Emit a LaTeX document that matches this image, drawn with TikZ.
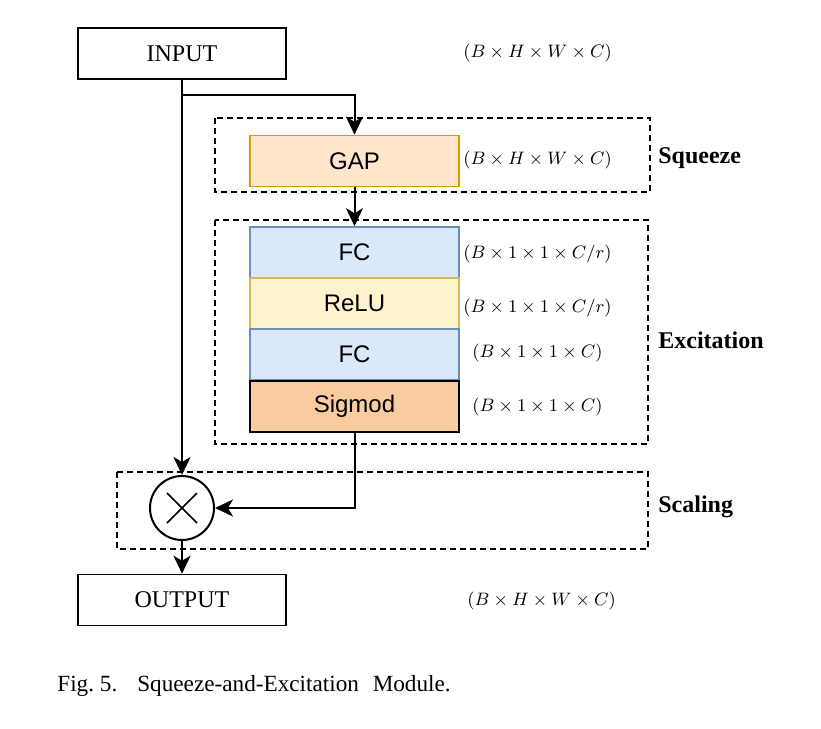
\documentclass[tikz,border=0pt]{standalone}
\usepackage{amsmath}
\usepackage{fontspec}
\setmainfont{Liberation Serif}
\setsansfont{Liberation Sans}
\usetikzlibrary{arrows.meta}
\definecolor{gapfill}{HTML}{FFE6CC}
\definecolor{gapline}{HTML}{D79B00}
\definecolor{fcfill}{HTML}{DAE8FC}
\definecolor{fcline}{HTML}{6C8EBF}
\definecolor{relufill}{HTML}{FFF2CC}
\definecolor{reluline}{HTML}{D6B656}
\definecolor{sigfill}{HTML}{F8CC9F}

\begin{document}
\begin{tikzpicture}[x=0.5pt,y=-0.5pt,
  >={Stealth[length=9pt,width=8.5pt,inset=2.5pt]},
  every node/.style={font=\fontsize{12}{14}\selectfont},
  plain/.style={draw,line width=0.8pt,minimum width=104pt,minimum height=25.5pt,inner sep=0},
  layer/.style={draw,line width=0.8pt,minimum width=104.5pt,minimum height=25.5pt,inner sep=0,font=\sffamily\fontsize{12}{14}\selectfont},
  group/.style={draw,line width=0.75pt,dash pattern=on 3pt off 2pt},
  dims/.style={font=\fontsize{9.5}{12}\selectfont,anchor=west,inner sep=0},
  tag/.style={font=\bfseries\fontsize{12}{14}\selectfont,anchor=west,inner sep=0},
  flow/.style={->,line width=1pt}]
\useasboundingbox (0,0) rectangle (821,729);
% groups
\draw[group] (215,118) rectangle (650,192);
\draw[group] (215,220) rectangle (648,444);
\draw[group] (117,472) rectangle (648,549);
% blocks
\node[plain] (input) at (182,53.5) {INPUT};
\node[layer,fill=gapfill,draw=gapline] (gap) at (354.5,161) {GAP};
\node[layer,fill=fcfill,draw=fcline] (fc1) at (354.5,252.5) {FC};
\node[layer,fill=relufill,draw=reluline] (relu) at (354.5,303.5) {ReLU};
\node[layer,fill=fcfill,draw=fcline] (fc2) at (354.5,354.5) {FC};
\node[layer,fill=sigfill,line width=1pt] (sig) at (354.5,406.5) {Sigmod};
\node[circle,draw,line width=1pt,minimum size=32pt,inner sep=0] (mul) at (182,508) {};
\draw[line width=0.8pt] (mul.center) +(-15,-15) -- +(15,15) (mul.center) +(-15,15) -- +(15,-15);
\node[plain] (output) at (182,600) {OUTPUT};
% shapes
\node[dims] (dimin) at (463,53) {$(B\times H\times W\times C)$};
\node[dims] (dimgap) at (463,160) {$(B\times H\times W\times C)$};
\node[dims] (dimfca) at (463,254) {$(B\times 1\times 1\times C/r)$};
\node[dims] (dimrelu) at (463,308) {$(B\times 1\times 1\times C/r)$};
\node[dims] (dimfcb) at (472,353) {$(B\times 1\times 1\times C)$};
\node[dims] (dimsig) at (472,407) {$(B\times 1\times 1\times C)$};
\node[dims] (dimout) at (467,601) {$(B\times H\times W\times C)$};
% stages
\node[tag] (squeeze) at (658,158) {Squeeze};
\node[tag] (excite) at (658,340) {Excitation};
\node[tag] (scale) at (658,507) {Scaling};
% connectors
\coordinate (split) at (182,95);
\draw[flow] (input.south) -- (mul.north);
\draw[flow] (split) -| (gap.north);
\draw[flow] (gap.south) -- (fc1.north);
\draw[flow] (sig.south) |- (mul.east);
\draw[flow] (mul.south) -- (output.north);
\node[anchor=west,inner sep=0,font=\fontsize{11.6}{14}\selectfont] (caption) at (57,686) {Fig.~5.\hspace{10pt}Squeeze-and-Excitation\hspace{4pt} Module.};
\end{tikzpicture}
\end{document}
